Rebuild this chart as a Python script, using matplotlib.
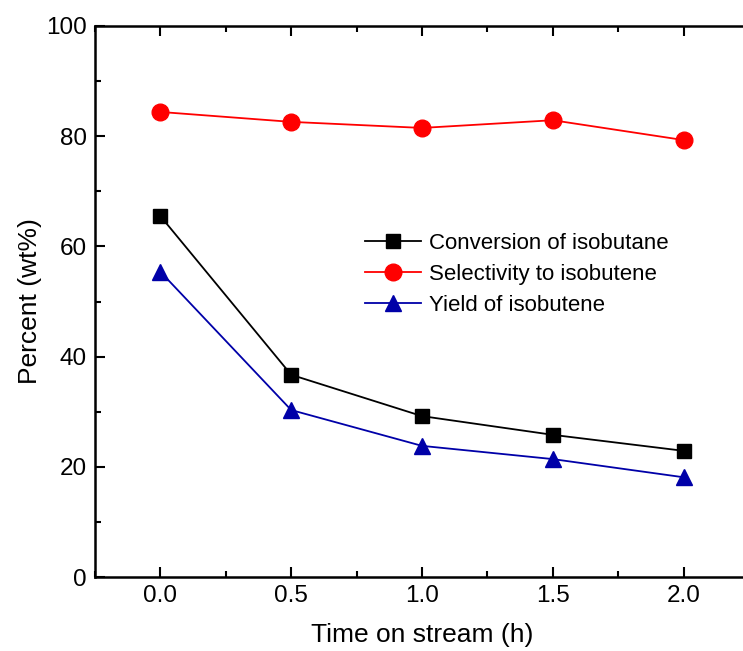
import matplotlib
matplotlib.use("Agg")
import matplotlib.pyplot as plt
from matplotlib.ticker import MultipleLocator

plt.rcParams['font.family'] = ['Liberation Sans', 'DejaVu Sans']

# data
time_h = [0.0, 0.5, 1.0, 1.5, 2.0]
conversion = [65.5, 36.7, 29.2, 25.8, 22.9]
selectivity = [84.4, 82.6, 81.5, 82.9, 79.3]
yield_ = [55.4, 30.3, 23.8, 21.4, 18.1]

fig = plt.figure(figsize=(7.43, 6.51), dpi=100)
# right spine lies just outside the picture, as in the original
ax = fig.add_axes([95 / 743, 74 / 651, 654 / 743, 551 / 651])

ax.plot(time_h, conversion, color='black', lw=1.3, marker='s', ms=10,
        label='Conversion of isobutane')
ax.plot(time_h, selectivity, color='#ff0000', lw=1.3, marker='o', ms=12,
        label='Selectivity to isobutene')
ax.plot(time_h, yield_, color='#0000a8', lw=1.3, marker='^', ms=12,
        label='Yield of isobutene')

ax.set_xlim(-0.25, 2.25)
ax.set_ylim(0, 100)
ax.xaxis.set_major_locator(MultipleLocator(0.5))
ax.xaxis.set_minor_locator(MultipleLocator(0.25))
ax.yaxis.set_major_locator(MultipleLocator(20))
ax.yaxis.set_minor_locator(MultipleLocator(10))
ax.set_xticks([0.0, 0.5, 1.0, 1.5, 2.0])
ax.set_xticklabels(['0.0', '0.5', '1.0', '1.5', '2.0'])

ax.tick_params(which='both', direction='in', top=True, right=False,
               labelsize=17.5, width=1.5)
ax.tick_params(which='major', length=7, pad=6)
ax.tick_params(which='minor', length=4)
for s in ax.spines.values():
    s.set_linewidth(1.8)

ax.set_xlabel('Time on stream (h)', fontsize=19, labelpad=11)
ax.set_ylabel('Percent (wt%)', fontsize=19, labelpad=3)

ax.legend(loc='upper left', bbox_to_anchor=(0.40, 0.64), frameon=False,
          fontsize=16, handlelength=2.5, handletextpad=0.35, labelspacing=0.45,
          borderaxespad=0)

fig.savefig('out.png', dpi=100)
